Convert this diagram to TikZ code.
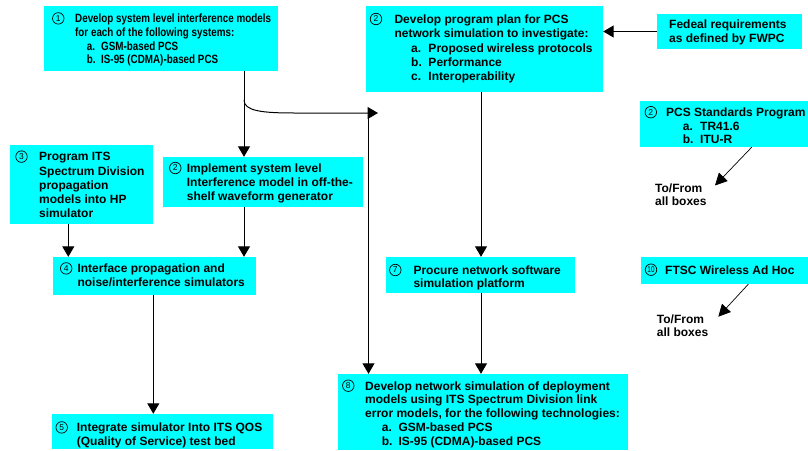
\documentclass[tikz,border=0pt]{standalone}
\usepackage{fontspec}
\setmainfont{Liberation Sans}
\newfontfamily\narrowsans{Liberation Sans}[FakeStretch=0.82]
\usetikzlibrary{arrows.meta,fit}
\definecolor{boxcyan}{RGB}{0,255,255}

\tikzset{
  box/.style={fill=boxcyan, draw=none, inner sep=0pt},
  txt/.style={anchor=north west, inner sep=0pt, align=left,
    font=\fontsize{12}{14}\selectfont\bfseries},
  num/.style={circle, draw, line width=0.7pt, inner sep=0pt,
    minimum size=11.5pt, font=\fontsize{8.5}{9}\selectfont},
  flow/.style={line width=1pt, -{Triangle[length=10.5pt,width=12pt]}},
  thinflow/.style={line width=0.7pt, -{Triangle[length=12pt,width=12pt]}},
}
% first-line strut: every text block starts 9pt above its first baseline
\newcommand{\fl}{\rule{0pt}{9pt}}

\begin{document}
\begin{tikzpicture}[x=1pt, y=-1pt]
\useasboundingbox (0,0) rectangle (808,450);

% ---------- boxes ----------
\node[box, fit={(44,6) (278,71)}]     (b1)   {};
\node[box, fit={(366,6) (603,92)}]    (b2)   {};
\node[box, fit={(657,14) (802,49)}]   (fed)  {};
\node[box, fit={(640,101) (808,147)}] (pcs)  {};
\node[box, fit={(10,145) (153,224)}]  (b3)   {};
\node[box, fit={(163,157) (363,207)}] (impl) {};
\node[box, fit={(53,257) (256,295)}]  (b4)   {};
\node[box, fit={(386,257) (575,293)}] (b7)   {};
\node[box, fit={(641,257) (808,284)}] (b10)  {};
\node[box, fit={(338,374) (628,450)}] (b8)   {};
\node[box, fit={(52,414) (273,449)}]  (b5)   {};

% ---------- texts ----------
\node[txt, font=\fontsize{12}{13.6}\selectfont\narrowsans\bfseries] (t1) at (75,13.7)
  {\fl Develop system level interference models\\
   for each of the following systems:\\
   \hspace*{11.7pt}\makebox[14.3pt][l]{a.}GSM-based PCS\\
   \hspace*{11.7pt}\makebox[14.3pt][l]{b.}IS-95 (CDMA)-based PCS};
\node[txt, font=\fontsize{12}{14.3}\selectfont\bfseries] (t2) at (394.3,14.3)
  {\fl Develop program plan for PCS\\
   network simulation to investigate:\\
   \hspace*{16.7pt}\makebox[17.3pt][l]{a.}Proposed wireless protocols\\
   \hspace*{16.7pt}\makebox[17.3pt][l]{b.}Performance\\
   \hspace*{16.7pt}\makebox[17.3pt][l]{c.}Interoperability};
\node[txt] (tfed) at (669,19.7)
  {\fl Fedeal requirements\\ as defined by FWPC};
\node[txt, font=\fontsize{12}{13.5}\selectfont\bfseries] (tpcs) at (666,107.5)
  {\fl PCS Standards Program\\
   \hspace*{16.7pt}\makebox[17.3pt][l]{a.}TR41.6\\
   \hspace*{16.7pt}\makebox[17.3pt][l]{b.}ITU-R};
\node[txt, font=\fontsize{12}{13}\selectfont\bfseries] (tf1) at (655,183.7)
  {\fl To/From\\ all boxes};
\node[txt, font=\fontsize{12}{14.2}\selectfont\bfseries] (t3) at (39,151.7)
  {\fl Program ITS\\ Spectrum Division\\ propagation\\ models into HP\\ simulator};
\node[txt, font=\fontsize{12}{14}\selectfont\bfseries] (timpl) at (186.7,163.3)
  {\fl Implement system level\\ Interference model in off-the-\\ shelf waveform generator};
\node[txt] (t4) at (77.3,263.7)
  {\fl Interface propagation and\\ noise/interference simulators};
\node[txt, font=\fontsize{12}{13.2}\selectfont\bfseries] (t7) at (413.3,265.3)
  {\fl Procure network software\\ simulation platform};
\node[txt] (t10) at (665,265)
  {\fl FTSC Wireless Ad Hoc};
\node[txt, font=\fontsize{12}{13}\selectfont\bfseries] (tf2) at (656.7,314.3)
  {\fl To/From\\ all boxes};
\node[txt, font=\fontsize{12}{13.75}\selectfont\bfseries] (t8) at (365,381)
  {\fl Develop network simulation of deployment\\
   models using ITS Spectrum Division link\\
   error models, for the following technologies:\\
   \hspace*{16.7pt}\makebox[16.6pt][l]{a.}GSM-based PCS\\
   \hspace*{16.7pt}\makebox[16.6pt][l]{b.}IS-95 (CDMA)-based PCS};
\node[txt, font=\fontsize{12}{13.4}\selectfont\bfseries] (t5) at (76.7,422.7)
  {\fl Integrate simulator Into ITS QOS\\ (Quality of Service) test bed};

% ---------- circled step numbers ----------
\node[num] (n1)   at (58.3,18.4)  {1};
\node[num] (n2)   at (376,19)     {2};
\node[num] (npcs) at (650.8,112.2){2};
\node[num] (n3)   at (21.5,156.6) {3};
\node[num] (nimp) at (175.3,168)  {2};
\node[num] (n4)   at (66.2,268.4) {4};
\node[num] (n7)   at (395.3,270)  {7};
\node[num] (n10)  at (651,269.7)  {\scalebox{0.75}[1]{10}};
\node[num] (n8)   at (348.3,385.7){8};
\node[num] (n5)   at (61.7,427.4) {5};

% ---------- connector columns ----------
\coordinate (colA) at (244,0);    % b1 -> impl -> b4
\coordinate (colB) at (68.3,0);   % b3 -> b4
\coordinate (colC) at (153.3,0);  % b4 -> b5
\coordinate (colD) at (481,0);    % b2 -> b7 -> b8
\coordinate (colE) at (368.5,0);  % feed into b8
\coordinate (bend) at (244,100);
\coordinate (hook) at (378,113);
\coordinate (d1)   at (751.7,0);
\coordinate (d2)   at (748.3,0);
\coordinate (end1) at (715,185.5);
\coordinate (end2) at (718.3,316.7);

% ---------- connectors ----------
\draw[flow] (fed.west) -- (fed.west -| b2.east);
\draw[flow] (b1.south -| colA) -- (impl.north -| colA);
\draw[flow] (impl.south -| colA) -- (b4.north -| colA);
\draw[flow] (b3.south -| colB) -- (b4.north -| colB);
\draw[flow] (b4.south -| colC) -- (b5.north -| colC);
\draw[flow] (b2.south -| colD) -- (b7.north -| colD);
\draw[flow] (b7.south -| colD) -- (b8.north -| colD);
\draw[flow] (bend) .. controls (244,111) and (262,113) .. (295,113) -- (hook);
\draw[flow] (hook -| colE) -- (b8.north -| colE);
\draw[thinflow] (pcs.south -| d1) -- (end1);
\draw[thinflow] (b10.south -| d2) -- (end2);
\end{tikzpicture}
\end{document}
